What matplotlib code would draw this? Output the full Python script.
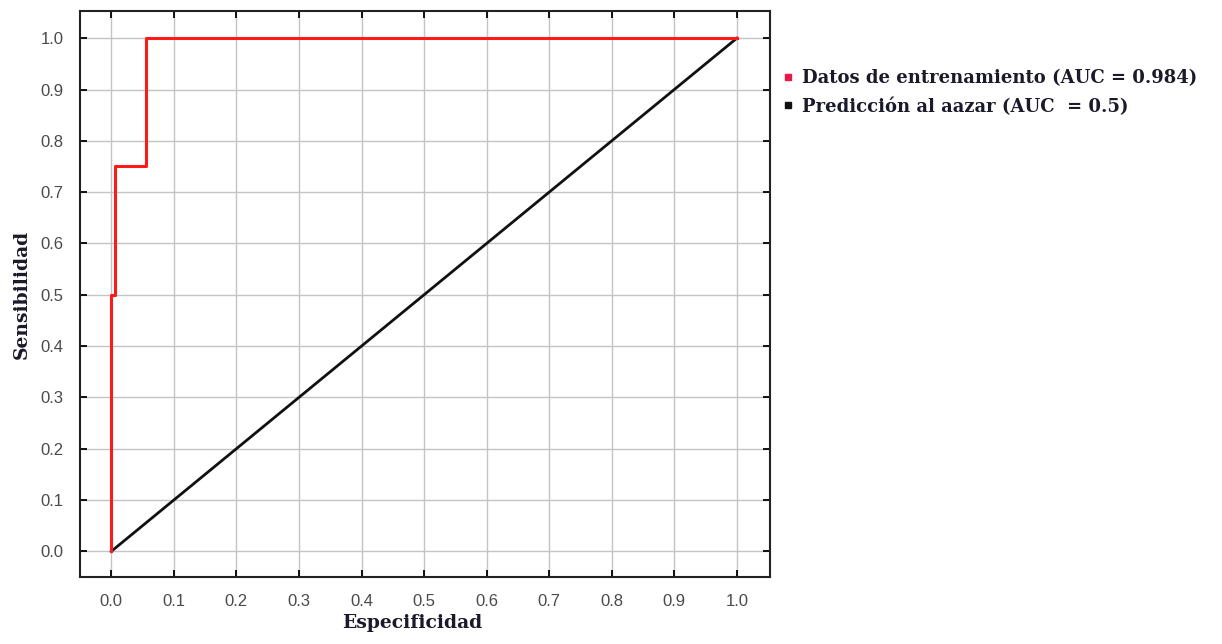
import matplotlib
matplotlib.use("Agg")
import matplotlib.pyplot as plt
from matplotlib.lines import Line2D

# ROC curve values
roc_fpr = [0.0, 0.0, 0.006, 0.006, 0.056, 0.056, 1.0]
roc_tpr = [0.0, 0.5, 0.5, 0.75, 0.75, 1.0, 1.0]
rand_fpr = [0.0, 1.0]
rand_tpr = [0.0, 1.0]
ticks = [round(v * 0.1, 1) for v in range(11)]
tick_labels = [f"{t:.1f}" for t in ticks]
legend_labels = ["Datos de entrenamiento (AUC = 0.984)", "Predicción al aazar (AUC  = 0.5)"]

SERIF = ["DejaVu Serif"]
SANS = ["Liberation Sans", "DejaVu Sans"]

fig = plt.figure(figsize=(12.22, 6.44), dpi=100)
ax = fig.add_axes([80 / 1222, 1 - 577 / 644, 690 / 1222, 566 / 644])

ax.plot(roc_fpr, roc_tpr, color="#ff1a1a", linewidth=2.2, zorder=3)
ax.plot(rand_fpr, rand_tpr, color="#111111", linewidth=2.0, zorder=2)

ax.set_xlim(-0.05, 1.053)
ax.set_ylim(-0.05, 1.053)
ax.set_xticks(ticks)
ax.set_yticks(ticks)
ax.set_xticklabels(tick_labels, family=SANS)
ax.set_yticklabels(tick_labels, family=SANS)
ax.grid(True, color="#c4c4c4", linewidth=1.0)
ax.set_axisbelow(True)
ax.tick_params(direction="in", top=True, right=True, length=5, width=1.3,
               labelsize=12, labelcolor="#4a4a4a", pad=12)
for s in ax.spines.values():
    s.set_linewidth(1.5)
    s.set_color("#222222")

ax.set_xlabel("Especificidad", fontsize=13.5, fontweight="bold", family=SERIF,
              color="#1a1a2a", labelpad=4)
ax.xaxis.set_label_coords(0.481, -0.065)
ax.set_ylabel("Sensibilidad", fontsize=13.5, fontweight="bold", family=SERIF,
              color="#1a1a2a", labelpad=7)

handles = [
    Line2D([], [], marker="s", linestyle="none", color="#e8194a", markersize=5),
    Line2D([], [], marker="s", linestyle="none", color="#111111", markersize=5),
]
fig.legend(handles, legend_labels, loc="upper left", bbox_to_anchor=(778 / 1222, 1 - 64 / 644),
           frameon=False, handlelength=0.5, handletextpad=0.55, labelspacing=0.55,
           borderaxespad=0, borderpad=0.3,
           prop={"family": SERIF, "weight": "bold", "size": 13})
for t in fig.legends[0].get_texts():
    t.set_color("#1a1a2a")

fig.savefig("out.png", dpi=100, facecolor="white")
